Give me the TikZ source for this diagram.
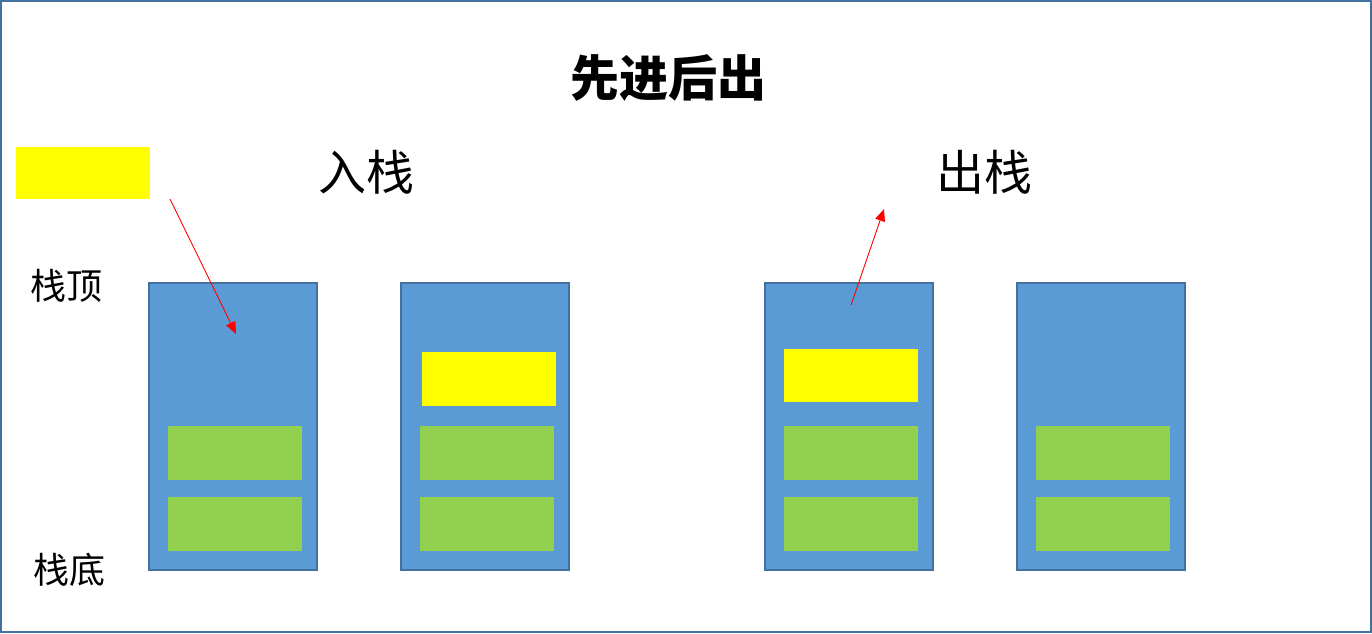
\documentclass[tikz,border=0pt]{standalone}
\usepackage{fontspec}
\newfontfamily\cjk{Noto Sans CJK SC}
\usetikzlibrary{arrows.meta}
\definecolor{stackblue}{HTML}{5B9BD5}
\definecolor{stackedge}{HTML}{41719C}
\definecolor{itemgreen}{HTML}{92D050}
\definecolor{itemyellow}{HTML}{FFFF00}
\tikzset{
  stackbox/.style={draw=stackedge, line width=1.5pt, fill=stackblue, minimum width=168pt, minimum height=287pt, inner sep=0pt},
  greenitem/.style={fill=itemgreen, minimum width=134pt, minimum height=54pt, inner sep=0pt},
  yellowitem/.style={fill=itemyellow, minimum width=134pt, minimum height=53pt, inner sep=0pt},
  redarrow/.style={draw=red, line width=0.9pt, -{Triangle[length=12pt,width=10pt]}},
  title/.style={font=\cjk\bfseries\fontsize{49}{55}\selectfont},
  heading/.style={font=\cjk\fontsize{48}{54}\selectfont},
  sidelabel/.style={font=\cjk\fontsize{36}{42}\selectfont},
}
\begin{document}
\begin{tikzpicture}[x=1pt,y=-1pt]
\useasboundingbox (0,0) rectangle (1372,633);
\draw[stackedge, line width=2pt] (1,1) rectangle (1371,632);

\node[title] (t) at (668,78) {先进后出};
\node[heading] (in) at (366,172) {入栈};
\node[heading] (out) at (984,172) {出栈};
\node[sidelabel] (top) at (66,286) {栈顶};
\node[sidelabel] (bot) at (69,570) {栈底};

\node[yellowitem, minimum height=52pt] (y0) at (83,173) {};

\node[stackbox] (s1) at (233,426.5) {};
\node[stackbox] (s2) at (485,426.5) {};
\node[stackbox] (s3) at (849,426.5) {};
\node[stackbox] (s4) at (1101,426.5) {};

\node[greenitem] (g1a) at (235,452.5) {};
\node[greenitem] (g1b) at (235,524) {};
\node[greenitem] (g2a) at (487,452.5) {};
\node[greenitem] (g2b) at (487,524) {};
\node[greenitem] (g3a) at (851,452.5) {};
\node[greenitem] (g3b) at (851,524) {};
\node[greenitem] (g4a) at (1103,452.5) {};
\node[greenitem] (g4b) at (1103,524) {};

\node[yellowitem, minimum height=54pt] (y2) at (489,379) {};
\node[yellowitem] (y3) at (851,375.5) {};

\coordinate (a1s) at (170,199);
\coordinate (a1e) at (236,334);
\coordinate (a2s) at (851,305);
\coordinate (a2e) at (884,209);
\draw[redarrow] (a1s) -- (a1e);
\draw[redarrow] (a2s) -- (a2e);
\end{tikzpicture}
\end{document}
